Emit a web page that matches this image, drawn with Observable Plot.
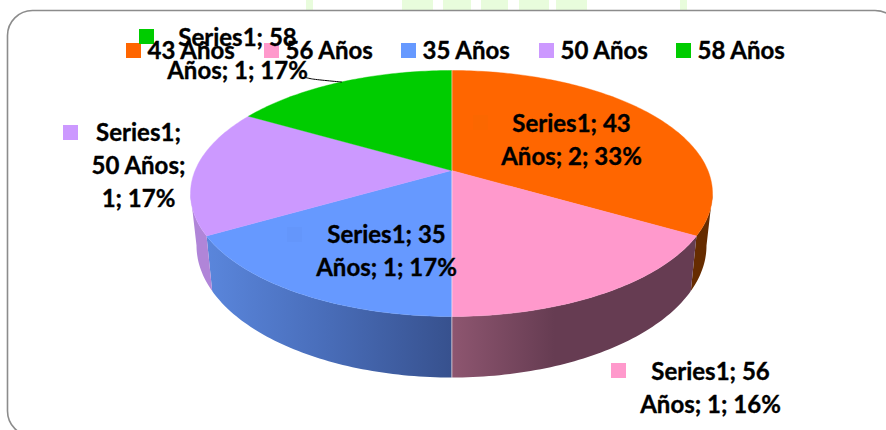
<!DOCTYPE html>
<html>
<head>
<meta charset="utf-8">
<script src="https://cdn.jsdelivr.net/npm/d3@7"></script>
<script src="https://cdn.jsdelivr.net/npm/@observablehq/plot@0.6"></script>
<style>
html,body{margin:0;padding:0;background:#fff;overflow:hidden}
svg{display:block}
</style>
</head>
<body>
<div id="chart"></div>
<script>
// ---- data ----
const series = "Series1";
const categories = ["43 Años", "56 Años", "35 Años", "50 Años", "58 Años"];
const values = [2, 1, 1, 1, 1];
const percents = [33, 16, 17, 17, 17];

// ---- styles ----
const faceColors = ["#ff6600", "#ff99cc", "#6699ff", "#cc99ff", "#00cc00"];
const wallFills = ["#662c00", "url(#wallPink)", "url(#wallBlue)", "#b085d8", "#008000"];
const font = "Lato";
const fontSize = 24;
const lineGap = 33;

// ---- pie projection (top rim, bottom rim, perspective) ----
const cx = 451;
const topRim = {cy: 193, rx: 261, ry: 123};
const botRim = {cy: 245, rx: 255, ry: 132};
const persp = -0.187;
const rad = d => d * Math.PI / 180;
function project(deg, rim) {
  const x = Math.sin(rad(deg)), y = -Math.cos(rad(deg));
  const w = 1 + persp * y;
  return {
    x: cx + rim.rx * x * Math.sqrt(1 - persp * persp) / w,
    y: rim.cy + rim.ry * (y + persp) / w
  };
}
const apex = {x: cx, y: topRim.cy + topRim.ry * persp};
const frontFrom = Math.acos(persp) * 180 / Math.PI;
const frontTo = 360 - frontFrom;

const total = d3.sum(values);
let running = 0;
const slices = categories.map((name, i) => {
  const a0 = running / total * 360;
  running += values[i];
  return {name, i, a0, a1: running / total * 360};
});
function sweep(a0, a1) {
  const n = Math.max(2, Math.ceil(Math.abs(a1 - a0)));
  return d3.range(n + 1).map(k => a0 + (a1 - a0) * k / n);
}

// ---- layout (pixel frame) ----
const dataLabels = [
  {i: 0, x: 571, y: 124, lines: [2, 3]},
  {i: 1, x: 710, y: 372, lines: [2, 3]},
  {i: 2, x: 386, y: 235, lines: [2, 3]},
  {i: 3, x: 138, y: 133, lines: [1, 2, 2]},
  {i: 4, x: 237, y: 38, lines: [2, 3]}
];
const labelKeys = [
  {x: 473, y: 115, fill: "#fb6700"},
  {x: 611, y: 363, fill: "#ff99cc"},
  {x: 287, y: 227, fill: "#6496fb"},
  {x: 63, y: 125, fill: "#cc99ff"},
  {x: 139, y: 29, fill: "#00cc00"}
];
const legendX = [126, 264, 401, 539, 676];
const legendY = 43;
const keySize = 15;
const leader = [{x: 305, y: 77}, {x: 312, y: 78.5}, {x: 341, y: 81.5}];
const stripes = [[306,313],[402,433],[443,471],[481,508],[519,549],[556,587],[680,687]];
const frame = [{x1: 7.5, y1: 10.5, x2: 900, y2: 436}];

function wrap(d) {
  const words = `${series}; ${categories[d.i]}; ${values[d.i]}; ${percents[d.i]}%`.split(" ");
  let at = 0;
  return d.lines.map(n => words.slice(at, at += n).join(" "));
}
const labelRows = dataLabels.flatMap(d =>
  wrap(d).map((text, k) => ({text, x: d.x, y: d.y + k * lineGap})));
const legendRows = categories.map((text, i) => ({text, x: legendX[i], y: legendY}));

const gradient = (id, stops) => {
  const g = document.createElementNS("http://www.w3.org/2000/svg", "linearGradient");
  g.setAttribute("id", id);
  stops.forEach(([o, c]) => {
    const s = document.createElementNS("http://www.w3.org/2000/svg", "stop");
    s.setAttribute("offset", o);
    s.setAttribute("stop-color", c);
    g.appendChild(s);
  });
  return g;
};
const defs = () => {
  const d = document.createElementNS("http://www.w3.org/2000/svg", "defs");
  d.appendChild(gradient("wallBlue", [[0, "#5a86dc"], [0.45, "#4a6fbc"], [1, "#37518e"]]));
  d.appendChild(gradient("wallPink", [[0, "#8e5670"], [0.42, "#663c52"], [1, "#663c52"]]));
  return d;
};

const wallMarks = slices.flatMap(s => {
  const a0 = Math.max(s.a0, frontFrom), a1 = Math.min(s.a1, frontTo);
  if (a1 <= a0) return [];
  const pts = [
    ...sweep(a0, a1).map(a => project(a, topRim)),
    ...sweep(a1, a0).map(a => project(a, botRim))
  ];
  return [Plot.line(pts, {x: "x", y: "y", fill: wallFills[s.i], stroke: "none", curve: "linear"})];
});
const faceMarks = slices.map(s => {
  const pts = [apex, ...sweep(s.a0, s.a1).map(a => project(a, topRim)), apex];
  return Plot.line(pts, {x: "x", y: "y", fill: faceColors[s.i], stroke: faceColors[s.i], strokeWidth: 0.4, curve: "linear"});
});

const textOpts = {
  x: "x", y: "y", text: "text", fontFamily: font, fontWeight: 700,
  fontSize, fill: "#000", stroke: "#000", strokeWidth: 0.35, lineAnchor: "middle"
};

const chart = Plot.plot({
  width: 886, height: 430, margin: 0,
  x: {type: "linear", domain: [0, 886], range: [0, 886], axis: null},
  y: {type: "linear", domain: [0, 430], range: [0, 430], axis: null},
  color: {type: "identity"},
  style: {background: "#fff", overflow: "hidden"},
  marks: [
    defs,
    Plot.rect(stripes, {x1: d => d[0], x2: d => d[1], y1: () => 0, y2: () => 10, fill: "#e8fcdc"}),
    Plot.rect(frame, {x1: "x1", x2: "x2", y1: "y1", y2: "y2", rx: 25, ry: 25, fill: "#fff", stroke: "#8c8c8c", strokeWidth: 1.6}),
    ...wallMarks,
    ...faceMarks,
    Plot.line([{x: cx + .5, y: topRim.cy - topRim.ry}, {x: cx + .5, y: botRim.cy + botRim.ry}], {x: "x", y: "y", stroke: "#fff", strokeOpacity: 0.45, strokeWidth: 1}),
    Plot.rect(legendRows, {x1: "x", x2: d => d.x + keySize, y1: "y", y2: d => d.y + keySize, fill: (d, i) => faceColors[i]}),
    Plot.rect(labelKeys, {x1: "x", x2: d => d.x + keySize, y1: "y", y2: d => d.y + keySize, fill: "fill"}),
    Plot.text(legendRows, {...textOpts, x: d => d.x + keySize + 6, y: d => d.y + 8, textAnchor: "start"}),
    Plot.text(labelRows, {...textOpts, textAnchor: "middle"}),
    Plot.line(leader, {x: "x", y: "y", stroke: "#000", strokeWidth: 1, curve: "catmull-rom"})
  ]
});
document.getElementById("chart").appendChild(chart);
</script>
</body>
</html>
